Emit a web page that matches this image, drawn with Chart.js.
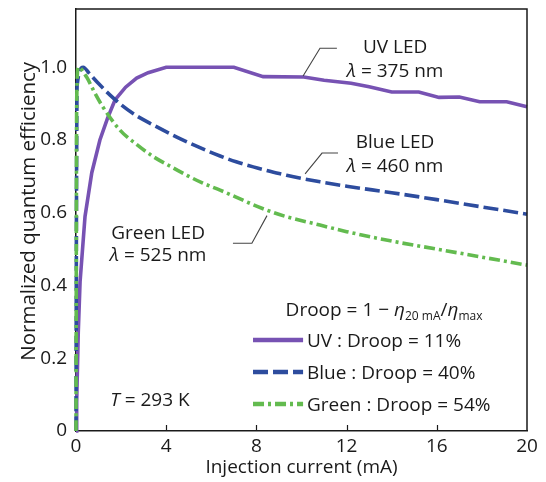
<!DOCTYPE html>
<html>
<head>
<meta charset="utf-8">
<script src="https://cdn.jsdelivr.net/npm/chart.js@4.4.1/dist/chart.umd.min.js"></script>
<style>
  html, body { margin: 0; padding: 0; background: #ffffff; }
  #wrap { width: 546px; height: 482px; }
</style>
</head>
<body>
<div id="wrap"><canvas id="c" width="546" height="482"></canvas></div>
<script>
// Normalized external quantum efficiency vs. injection current, three LEDs.
const uvCurrent = [0, 0.03, 0.10, 0.18, 0.40, 0.70, 1.06, 1.40, 1.73, 2.20, 2.69, 3.20, 4.0, 7.0, 8.3, 10.1, 11.0, 12.2, 13.0, 14.0, 15.2, 16.1, 17.0, 17.9, 19.1, 20];
const uvEff     = [0, 0.08, 0.27, 0.41, 0.59, 0.71, 0.80, 0.86, 0.91, 0.945, 0.97, 0.985, 1.0, 1.0, 0.974, 0.973, 0.964, 0.956, 0.946, 0.932, 0.932, 0.917, 0.918, 0.905, 0.905, 0.891];

const blueCurrent = [0, 0.02, 0.05, 0.32, 0.6, 1.0, 1.5, 2.0, 2.7, 3.43, 4.47, 5.6, 6.39, 7.1, 7.86, 8.6, 9.34, 10.82, 12, 14, 16, 18, 20];
const blueEff     = [0, 0.6, 0.95, 1.0, 0.982, 0.955, 0.924, 0.897, 0.866, 0.841, 0.808, 0.776, 0.756, 0.740, 0.726, 0.714, 0.703, 0.685, 0.673, 0.655, 0.636, 0.616, 0.596];

const greenCurrent = [0, 0.03, 0.10, 0.47, 0.77, 1.2, 1.95, 2.7, 3.43, 4.2, 4.91, 5.6, 6.39, 7.1, 7.86, 8.6, 9.34, 10.82, 12, 14, 16, 18, 20];
const greenEff     = [0, 0.9, 1.0, 0.973, 0.937, 0.89, 0.827, 0.787, 0.754, 0.727, 0.703, 0.682, 0.662, 0.643, 0.622, 0.604, 0.589, 0.566, 0.548, 0.522, 0.5, 0.478, 0.456];

const xTickValues = [0, 4, 8, 12, 16, 20];
const yTickValues = [0, 0.2, 0.4, 0.6, 0.8, 1.0];

const seriesNames = ['UV', 'Blue', 'Green'];
const droopPercent = [11, 40, 54];

const FONT = '"Open Sans", "Noto Sans", sans-serif';
const INK = '#1a1a1a';
const COLORS = { uv: '#7752b3', blue: '#2d4c9e', green: '#63bb4f' };
const DASH = { uv: [], blue: [15, 5], green: [11, 4, 3, 4] };

const X_TITLE = 'Injection current (mA)';
const Y_TITLE = 'Normalized quantum efficiency';

function pts(xs, ys) { return xs.map((x, i) => ({ x: x, y: ys[i] })); }

// Curve labels with leader lines, in data coordinates.
const curveNotes = [
  { lines: [[{ t: 'UV LED' }], [{ t: 'λ', it: true }, { t: ' = 375 nm' }]], at: [14.15, 1.058], gap: 0.066,
    leader: [[11.57, 1.052], [10.82, 1.052], [10.07, 0.976]] },
  { lines: [[{ t: 'Blue LED' }], [{ t: 'λ', it: true }, { t: ' = 460 nm' }]], at: [14.15, 0.796], gap: 0.064,
    leader: [[11.62, 0.764], [10.91, 0.764], [10.16, 0.707]] },
  { lines: [[{ t: 'Green LED' }], [{ t: 'λ', it: true }, { t: ' = 525 nm' }]], at: [3.64, 0.547], gap: 0.061,
    leader: [[6.96, 0.516], [7.80, 0.516], [8.47, 0.592]] },
  { lines: [[{ t: 'T', it: true }, { t: ' = 293 K' }]], at: [3.28, 0.088], gap: 0, leader: null }
];

const TEXT_SIZE = 19;
const SUB_SIZE = 12;

function runFont(r) {
  const size = r.sub ? SUB_SIZE : TEXT_SIZE;
  return (r.it ? 'italic ' : '') + size + 'px ' + FONT;
}
function runsWidth(ctx, runs) {
  let w = 0;
  runs.forEach(r => { ctx.font = runFont(r); w += ctx.measureText(r.t).width; });
  return w;
}
function drawRuns(ctx, runs, x, y, align) {
  let cx = align === 'center' ? x - runsWidth(ctx, runs) / 2 : x;
  ctx.textBaseline = 'alphabetic';
  ctx.textAlign = 'left';
  runs.forEach(r => {
    ctx.font = runFont(r);
    ctx.fillText(r.t, cx, y + (r.sub ? 4 : 0));
    cx += ctx.measureText(r.t).width;
  });
}

const annotationPlugin = {
  id: 'annotations',
  afterDatasetsDraw(chart) {
    const { ctx, scales: { x, y } } = chart;
    const P = (dx, dy) => [x.getPixelForValue(dx), y.getPixelForValue(dy)];
    ctx.save();
    ctx.fillStyle = INK;
    ctx.strokeStyle = '#444';
    ctx.lineWidth = 1.1;
    curveNotes.forEach(n => {
      n.lines.forEach((runs, i) => {
        const p = P(n.at[0], n.at[1] - i * n.gap);
        drawRuns(ctx, runs, p[0], p[1] + 7, 'center');
      });
      if (n.leader) {
        ctx.beginPath();
        n.leader.forEach((q, i) => {
          const p = P(q[0], q[1]);
          if (i === 0) ctx.moveTo(p[0], p[1]); else ctx.lineTo(p[0], p[1]);
        });
        ctx.stroke();
      }
    });

    // droop legend
    const head = [
      { t: 'Droop = 1 − ' }, { t: 'η', it: true }, { t: '20 mA', sub: true },
      { t: '/' }, { t: 'η', it: true }, { t: 'max', sub: true }
    ];
    const hp = P(13.66, 0.335);
    drawRuns(ctx, head, hp[0], hp[1] + 7, 'center');

    const keys = ['uv', 'blue', 'green'];
    const rowY = [0.250, 0.162, 0.074];
    keys.forEach((k, i) => {
      const l0 = P(7.85, rowY[i]);
      const l1 = P(10.07, rowY[i]);
      ctx.save();
      ctx.strokeStyle = COLORS[k];
      ctx.lineWidth = 4.5;
      ctx.setLineDash(DASH[k]);
      ctx.beginPath();
      ctx.moveTo(l0[0], l0[1]);
      ctx.lineTo(l1[0], l1[1]);
      ctx.stroke();
      ctx.restore();
      const tp = P(10.24, rowY[i]);
      drawRuns(ctx, [{ t: seriesNames[i] + ' : Droop = ' + droopPercent[i] + '%' }], tp[0], tp[1] + 7, 'left');
    });
    ctx.restore();
  },
  afterDraw(chart) {
    const { ctx, chartArea: a, scales: { x, y } } = chart;
    ctx.save();
    // top/right edges of the frame
    ctx.strokeStyle = INK;
    ctx.lineWidth = 1.5;
    ctx.beginPath();
    ctx.moveTo(a.left, a.top);
    ctx.lineTo(a.right, a.top);
    ctx.lineTo(a.right, a.bottom);
    ctx.stroke();
    // inward tick marks on the current axis
    ctx.lineWidth = 1.2;
    xTickValues.slice(1, -1).forEach(v => {
      const p = Math.round(x.getPixelForValue(v)) + 0.5;
      ctx.beginPath();
      ctx.moveTo(p, a.bottom);
      ctx.lineTo(p, a.bottom - 6);
      ctx.stroke();
    });
    // efficiency axis title, centred a little above the middle of the axis
    ctx.fillStyle = INK;
    ctx.font = '20.5px ' + FONT;
    ctx.textAlign = 'center';
    ctx.textBaseline = 'middle';
    ctx.translate(29, y.getPixelForValue(0.604));
    ctx.rotate(-Math.PI / 2);
    ctx.fillText(Y_TITLE, 0, 0);
    ctx.restore();
  }
};

function lineSet(label, data, key, smooth) {
  return {
    label: label,
    data: data,
    borderColor: COLORS[key],
    borderWidth: 3.6,
    borderDash: DASH[key],
    pointRadius: 0,
    fill: false,
    tension: 0,
    cubicInterpolationMode: smooth ? 'monotone' : 'default',
    clip: false
  };
}

new Chart(document.getElementById('c'), {
  type: 'line',
  data: {
    datasets: [
      lineSet('Green', pts(greenCurrent, greenEff), 'green', true),
      lineSet('Blue', pts(blueCurrent, blueEff), 'blue', true),
      lineSet('UV', pts(uvCurrent, uvEff), 'uv', false)
    ]
  },
  options: {
    responsive: false,
    animation: false,
    devicePixelRatio: 1,
    layout: { padding: { top: 9, right: 19, left: 0, bottom: 0 } },
    plugins: { legend: { display: false }, tooltip: { enabled: false } },
    scales: {
      x: {
        type: 'linear', min: 0, max: 20,
        afterBuildTicks: s => { s.ticks = xTickValues.map(v => ({ value: v })); },
        afterFit: s => { s.height = 51; s.paddingLeft = 0; s.paddingRight = 0; },
        grid: { display: true, drawOnChartArea: false, drawTicks: false },
        border: { display: true, color: INK, width: 1.5 },
        ticks: { padding: 4, color: INK, maxRotation: 0, autoSkip: false,
                 font: { family: FONT, size: TEXT_SIZE }, callback: v => String(v) },
        title: { display: true, text: X_TITLE, color: INK,
                 font: { family: FONT, size: TEXT_SIZE }, padding: { top: 0, bottom: 3 } }
      },
      y: {
        type: 'linear', min: 0, max: 1.16,
        afterBuildTicks: s => { s.ticks = yTickValues.map(v => ({ value: v })); },
        afterFit: s => { s.width = 76; s.paddingTop = 0; s.paddingBottom = 0; },
        grid: { display: true, drawOnChartArea: false, drawTicks: false },
        border: { display: true, color: INK, width: 1.5 },
        ticks: { padding: 9, color: INK, autoSkip: false,
                 font: { family: FONT, size: TEXT_SIZE }, callback: v => (v === 0 ? '0' : v.toFixed(1)) }
      }
    }
  },
  plugins: [annotationPlugin]
});
</script>
</body>
</html>
